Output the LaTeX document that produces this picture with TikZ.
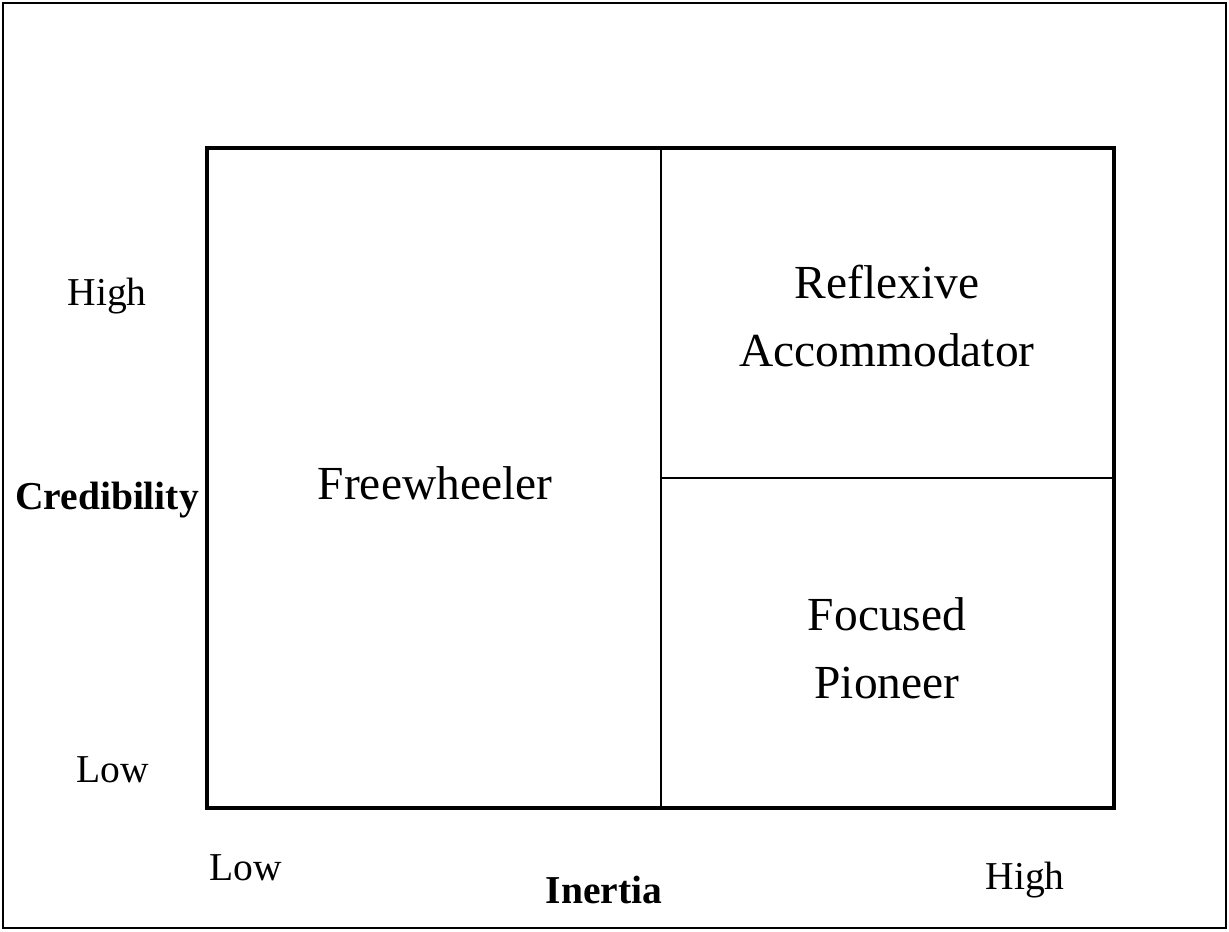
\documentclass[tikz,border=0pt]{standalone}
\usepackage{fontspec}
\setmainfont{Liberation Serif}
\usetikzlibrary{positioning,calc}
\tikzset{
  quad/.style={font=\fontsize{27}{38.5}\selectfont,align=center,inner sep=0pt},
  tick/.style={font=\fontsize{22.5}{27}\selectfont,inner sep=0pt},
  axis/.style={font=\fontsize{22.5}{27}\selectfont\bfseries,inner sep=0pt},
  frame/.style={draw=black,line width=2.3pt},
  split/.style={draw=black,line width=0.85pt},
}

\begin{document}
\begin{tikzpicture}[x=0.02cm,y=-0.02cm]
  \useasboundingbox (0,0) rectangle (1229,931);
  \draw[line width=1.1pt] (3,3) rectangle (1226,928);
  % the four corners of the grid
  \coordinate (tl) at (207,148);
  \coordinate (br) at (1114,808);
  \coordinate (mt) at (661,148);
  \coordinate (mb) at (661,808);
  \coordinate (ml) at (661,478);
  \coordinate (mr) at (1114,478);
  \draw[split] (mt) -- (mb);
  \draw[split] (ml) -- (mr);
  \draw[frame] (tl) rectangle (br);
  % quadrant names
  \node[quad] (free) at (435,483) {Freewheeler};
  \node[quad] (refl) at (887,316) {Reflexive\\Accommodator};
  \node[quad] (focus) at (887,648) {Focused\\Pioneer};
  % axes
  \node[tick] (yhi) at (107,296) {High};
  \node[axis] (ylab) at (107,500) {Credibility};
  \node[tick] (ylo) at (113,770) {Low};
  \node[tick] (xlo) at (246,868) {Low};
  \node[axis] (xlab) at (604,890) {Inertia};
  \node[tick] (xhi) at (1025,880) {High};
\end{tikzpicture}
\end{document}
